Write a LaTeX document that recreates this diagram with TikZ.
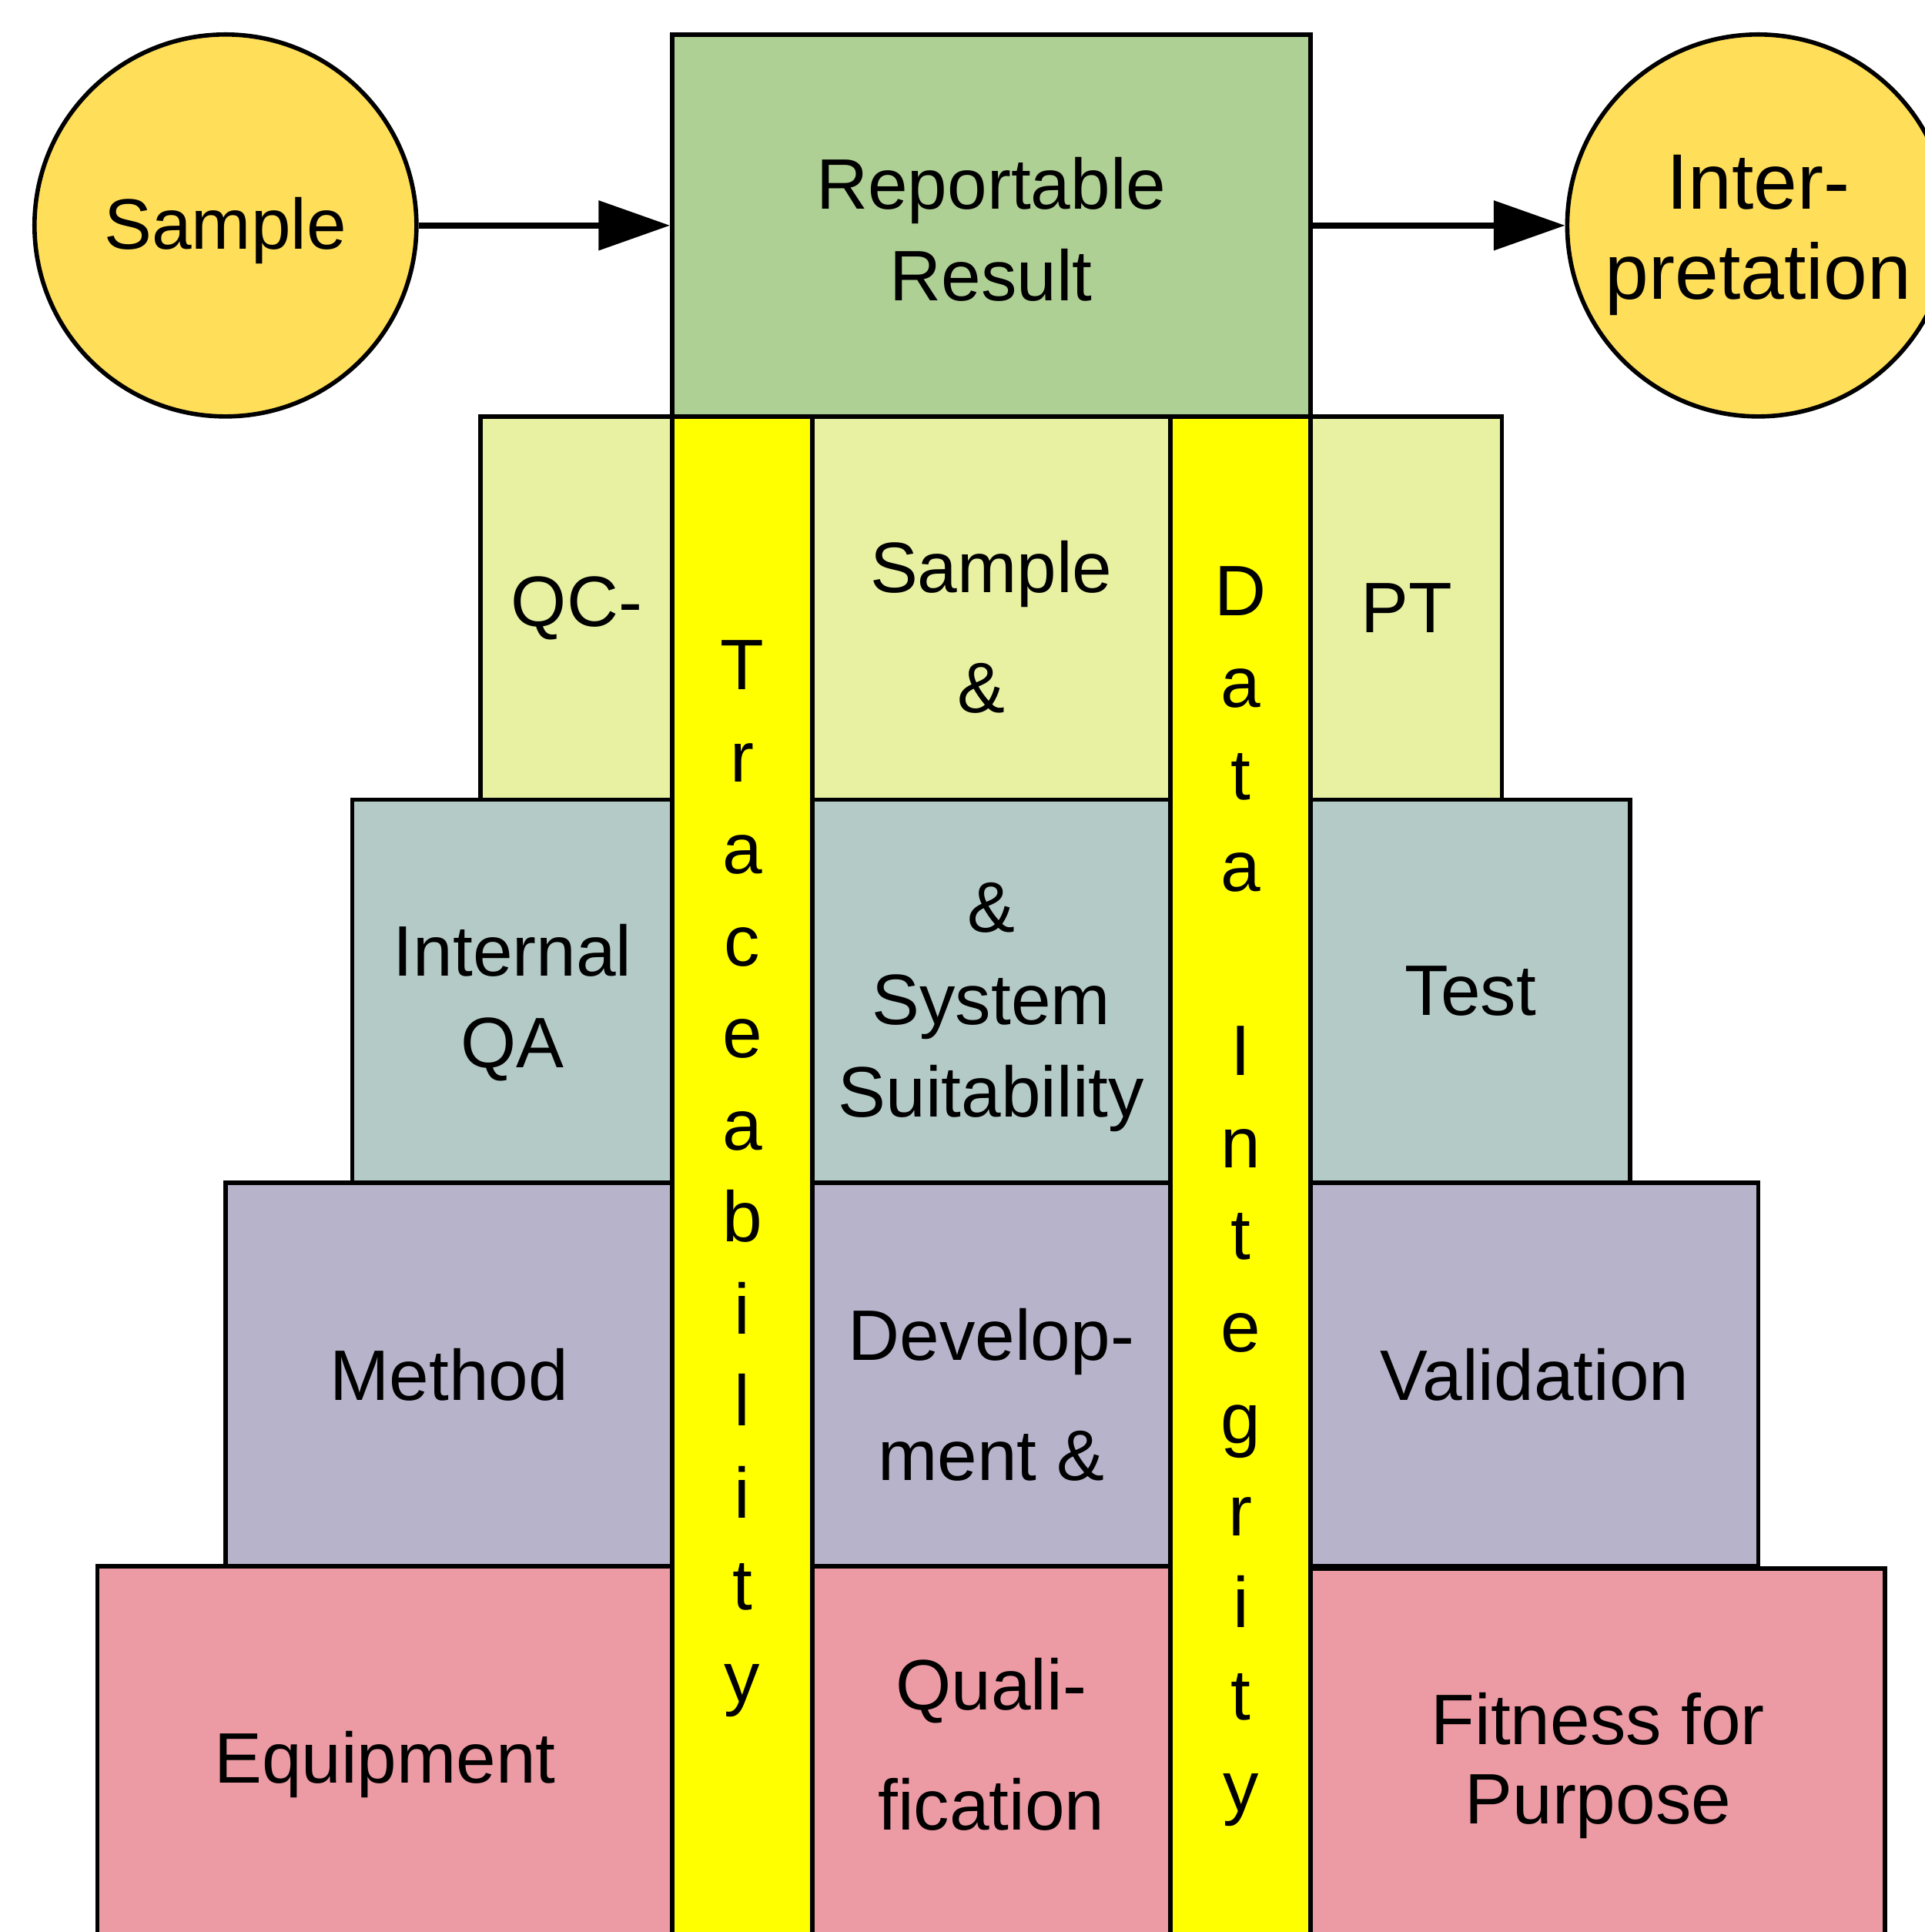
\documentclass[tikz,border=0pt]{standalone}
\usepackage{fontspec}
\setmainfont{Liberation Sans}
\usetikzlibrary{positioning,arrows.meta}
\definecolor{ballyellow}{HTML}{FFDE59}
\definecolor{resgreen}{HTML}{AFD095}
\definecolor{rowa}{HTML}{E8F1A2}
\definecolor{rowb}{HTML}{B3CAC7}
\definecolor{rowc}{HTML}{B6B3CB}
\definecolor{rowd}{HTML}{EC9AA3}
\definecolor{pillar}{HTML}{FFFF00}
\newcommand{\padtop}[1]{\rule{0pt}{#1}}
\newcommand{\padbot}[1]{\rule[-#1]{0pt}{#1}}
\tikzset{
  blk/.style={draw,rectangle,inner sep=0pt,align=center,minimum height=3.11cm,
    font=\fontsize{16.5pt}{21.25pt}\selectfont},
  ball/.style={draw,circle,fill=ballyellow,inner sep=0pt,minimum size=3.10cm,align=center,
    font=\fontsize{16.5pt}{21.25pt}\selectfont},
  strip/.style={blk,fill=pillar,minimum width=1.135cm},
  arr/.style={line width=1.4pt,-{Triangle[length=0.58cm,width=0.395cm]}}
}
\begin{document}
\begin{tikzpicture}[line width=1pt]
\useasboundingbox (0,0) rectangle (15.62,-15.68);
% middle column of the pyramid
\node[blk,fill=rowa,minimum width=2.91cm] (sam) at (8.045,-4.935) {\padtop{0.73cm}Sample\\[0.228cm]\&\hphantom{\ }};
\node[blk,fill=rowb,minimum width=2.91cm,below of=sam,node distance=3.11cm] (sst) {\padtop{0.66cm}\&\\System\\Suitability};
\node[blk,fill=rowc,minimum width=2.91cm,below of=sst,node distance=3.11cm] (dev) {\padtop{0.752cm}Develop-\\[0.228cm]ment \&};
\node[blk,fill=rowd,minimum width=2.91cm,below of=dev,node distance=3.11cm] (qual) {Quali-\\[0.228cm]fication\padbot{0.218cm}};
% left steps
\node[blk,fill=rowa,minimum width=1.56cm,left of=sam,node distance=3.365cm] (qc) {QC-};
\node[blk,fill=rowb,minimum width=2.60cm,left of=sst,node distance=3.885cm] (iqa) {\padtop{0.606cm}Internal\\QA};
\node[blk,fill=rowc,minimum width=3.63cm,left of=dev,node distance=4.40cm] (meth) {Method};
\node[blk,fill=rowd,minimum width=4.67cm,left of=qual,node distance=4.92cm] (equip) {\padtop{0.532cm}Equipment};
% right steps
\node[blk,fill=rowa,minimum width=1.55cm,right of=sam,node distance=3.37cm] (pt) {PT};
\node[blk,fill=rowb,minimum width=2.59cm,right of=sst,node distance=3.89cm] (test) {Test};
\node[blk,fill=rowc,minimum width=3.63cm,right of=dev,node distance=4.41cm] (valid) {Validation};
\node[blk,fill=rowd,minimum width=4.66cm,right of=qual,node distance=4.925cm,yshift=-0.02cm] (fit) {\padtop{0.511cm}Fitness for\\[-0.1cm]Purpose};
% the two pillars
\node[strip,minimum height=12.374cm] (trc) at (6.025,-9.567) {T\\r\\a\\c\\e\\a\\b\\i\\l\\i\\t\\y};
\node[strip,minimum height=12.66cm] (dat) at (10.07,-9.71) {D\\a\\t\\a\\ \\I\\n\\t\\e\\g\\r\\i\\t\\y};
% top line
\node[blk,fill=resgreen,minimum width=5.18cm,minimum height=3.10cm,above of=sam,node distance=3.105cm] (res) {\padtop{0.484cm}Reportable\\Result};
\node[ball,left of=res,node distance=6.215cm] (smp) {\padtop{0.506cm}Sample};
\node[ball,right of=res,node distance=6.225cm,font=\fontsize{18.15pt}{20.8pt}\selectfont] (intp) {\padtop{0.595cm}Inter-\\pretation};
\draw[arr] (smp) -- (res);
\draw[arr] (res) -- (intp);
\end{tikzpicture}
\end{document}
